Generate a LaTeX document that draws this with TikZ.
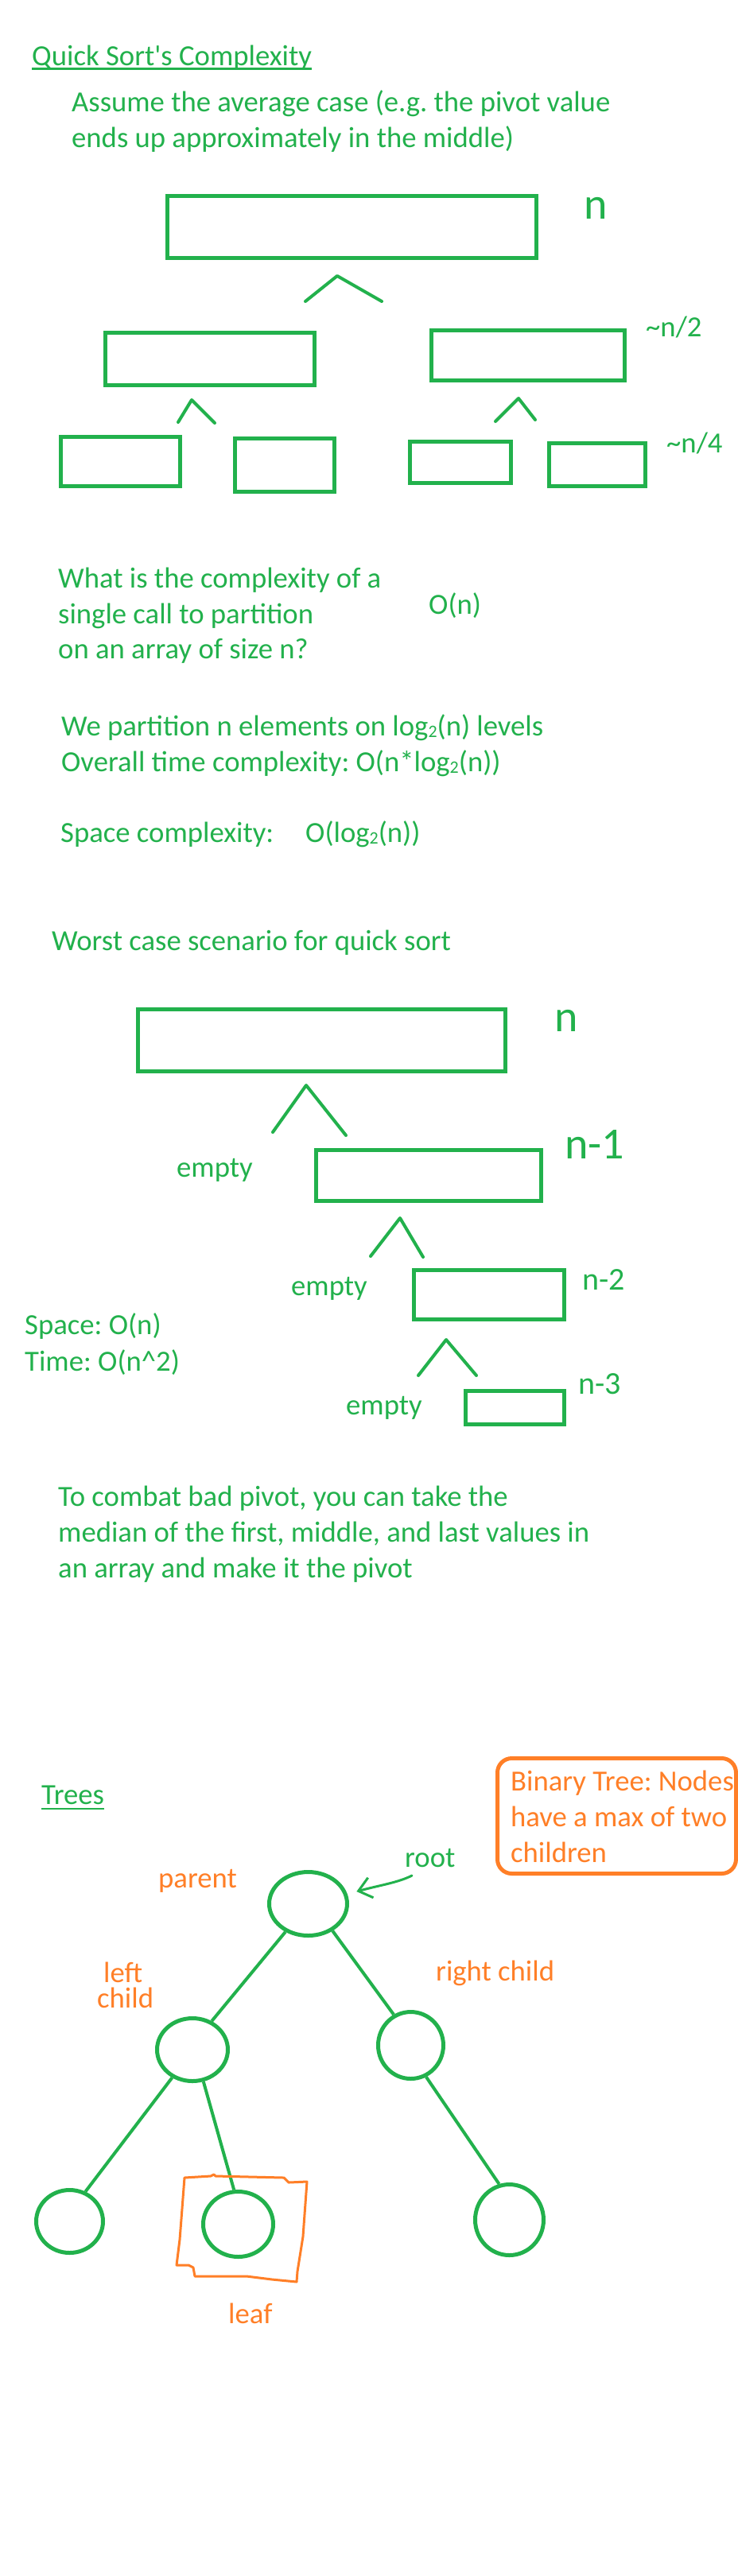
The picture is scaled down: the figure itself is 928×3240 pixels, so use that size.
\documentclass[tikz,border=0pt]{standalone}
\usepackage{fontspec}
\setmainfont{Carlito}
\usetikzlibrary{shapes.geometric,arrows.meta}
\definecolor{qgreen}{HTML}{22B14C}
\definecolor{qorange}{HTML}{FF7F27}
\newcommand{\subtwo}{\raisebox{-2pt}{\fontsize{22}{22}\selectfont 2}}
\frenchspacing
\begin{document}
\frenchspacing
\begin{tikzpicture}[x=1pt,y=-1pt,
  txt/.style={font=\fontsize{36.7}{44}\selectfont\frenchspacing, text=qgreen, inner sep=0pt, anchor=base west},
  otxt/.style={txt, text=qorange},
  hand/.style={txt, font=\fontsize{56}{60}\selectfont},
  handsm/.style={txt, font=\fontsize{40}{44}\selectfont},
  gbox/.style={draw=qgreen, line width=5pt, inner sep=0pt, rectangle},
  caret/.style={draw=qgreen, line width=4pt, line cap=round, line join=round},
  tnode/.style={ellipse, draw=qgreen, line width=5pt, inner sep=0pt},
  tedge/.style={draw=qgreen, line width=4pt},
  uline/.style={draw=qgreen, line width=2.5pt}]
\fill[white] (0,0) rectangle (928,3240);
\useasboundingbox (0,0) rectangle (928,3240);

% ---------- Section 1: average case ----------
\node[txt] (title) at (40,82.5) {Quick Sort\textquotesingle s Complexity};
\draw[uline] ([yshift=-4pt]title.base west) -- ([yshift=-4pt]title.base east);
\node[txt] (assume1) at (90,140) {Assume the average case (e.g. the pivot value};
\node[txt] (assume2) at (90,185) {ends up approximately in the middle)};

\node[gbox, minimum width=464pt, minimum height=78pt] (top) at (442.5,285.5) {};
\node[hand] (nA) at (734,275) {n};
\draw[caret] (384,379) -- (424,347) -- (480,379);
\node[gbox, minimum width=263pt, minimum height=66pt] (midL) at (264,451.5) {};
\node[gbox, minimum width=243pt, minimum height=63pt] (midR) at (664,447) {};
\node[txt] (half) at (812,423) {\textasciitilde n/2};
\draw[caret] (224,531) -- (241,503) -- (270,532);
\draw[caret] (623,530) -- (652,501) -- (673,528);
\node[gbox, minimum width=150pt, minimum height=62pt] (b1) at (151.5,580.5) {};
\node[gbox, minimum width=125pt, minimum height=67pt] (b2) at (358,585) {};
\node[gbox, minimum width=127pt, minimum height=52pt] (b3) at (579,581.5) {};
\node[gbox, minimum width=121pt, minimum height=54pt] (b4) at (751,584.5) {};
\node[txt] (quarter) at (838,569) {\textasciitilde n/4};

% ---------- Section 2: complexity text ----------
\node[txt] (q1) at (73,739) {What is the complexity of a};
\node[txt] (q2) at (73,784) {single call to partition};
\node[txt] (q3) at (73,828) {on an array of size n?};
\node[txt] (on) at (539,772) {O(n)};
\node[txt] (lv) at (77,925) {We partition n elements on log\subtwo(n) levels};
\node[txt] (ot) at (77,970) {Overall time complexity: O(n*log\subtwo(n))};
\node[txt] (sc) at (76,1059) {Space complexity:};
\node[txt] (scv) at (384,1059) {O(log\subtwo(n))};

% ---------- Section 3: worst case ----------
\node[txt] (worst) at (65,1195) {Worst case scenario for quick sort};
\node[gbox, minimum width=462pt, minimum height=78pt] (wA) at (404.5,1308.5) {};
\node[hand] (nB) at (697,1297) {n};
\draw[caret] (343,1424) -- (385,1365) -- (435,1428);
\node[txt] (e1) at (222,1480) {empty};
\node[gbox, minimum width=283pt, minimum height=64pt] (wB) at (539,1478.5) {};
\node[hand] (n1) at (710,1457) {n-1};
\draw[caret] (466,1580) -- (503,1532) -- (532,1581);
\node[txt] (e2) at (366,1629) {empty};
\node[gbox, minimum width=189pt, minimum height=62pt] (wC) at (615,1628.5) {};
\node[handsm] (n2) at (732,1622) {n-2};
\node[txt] (sp) at (31,1678) {Space: O(n)};
\node[txt] (tm) at (31,1724) {Time: O(n\textasciicircum 2)};
\draw[caret] (526,1730) -- (561,1685) -- (599,1730);
\node[txt] (e3) at (435,1779) {empty};
\node[gbox, minimum width=124pt, minimum height=42pt] (wD) at (647.5,1770.5) {};
\node[handsm] (n3) at (727,1753) {n-3};

% ---------- Section 4: median text ----------
\node[txt] (m1) at (73,1894) {To combat bad pivot, you can take the};
\node[txt] (m2) at (73,1939) {median of the first, middle, and last values in};
\node[txt] (m3) at (73,1984) {an array and make it the pivot};

% ---------- Section 5: trees ----------
\node[txt] (trees) at (52,2269) {Trees};
\draw[uline] ([yshift=-6pt]trees.base west) -- ([yshift=-6pt]trees.base east);

\node[draw=qorange, line width=5pt, rounded corners=18pt, minimum width=300pt,
      minimum height=145pt, inner sep=0pt] (bbox) at (775.5,2284) {};
\node[otxt] (bt1) at (642,2252) {Binary Tree: Nodes};
\node[otxt] (bt2) at (642,2297) {have a max of two};
\node[otxt] (bt3) at (642,2342) {children};

\node[tnode, minimum width=98pt, minimum height=80pt] (root) at (387.5,2394.5) {};
\node[tnode, minimum width=89pt, minimum height=79pt] (lc) at (242,2578) {};
\node[tnode, minimum width=82pt, minimum height=84pt] (rc) at (516.5,2572.5) {};
\node[tnode, minimum width=84pt, minimum height=79pt] (l1) at (87.5,2794) {};
\node[tnode, minimum width=88pt, minimum height=82pt] (l2) at (299.5,2797.5) {};
\node[tnode, minimum width=86pt, minimum height=89pt] (l3) at (640.5,2792) {};

\draw[tedge] (root.231) -- (lc.56);
\draw[tedge] (root.-48) -- (rc.119);
\draw[tedge] (lc.234) -- (l1.62);
\draw[tedge] (lc.-71) -- (l2.97);
\draw[tedge] (rc.-64) -- (l3.106);

\node[txt] (rootlbl) at (509,2348) {root};
\coordinate (rstart) at (518,2359);
\draw[qgreen, line width=3pt, line cap=round, shorten >=12pt,
      -{Straight Barb[length=16pt,width=26pt,line width=3pt]}]
  (rstart) .. controls (500,2368) and (478,2371) .. (root.14);

\node[otxt] (parent) at (199,2374) {parent};
\node[otxt] (left) at (130,2493) {left};
\node[otxt] (child) at (122,2525) {child};
\node[otxt] (rchild) at (548,2491) {right child};

\draw[qorange, line width=3pt, line join=round]
  (232,2739) -- (265,2737) -- (269,2735) -- (271,2737) -- (357,2739) -- (363,2745)
  -- (386,2744) -- (381,2813) -- (374,2857) -- (373,2870) -- (342,2867) -- (310,2863)
  -- (245,2863) -- (243,2852) -- (237,2849) -- (222,2849) -- (226,2817) -- cycle;
\node[otxt] (leaf) at (287,2922) {leaf};
\end{tikzpicture}
\end{document}
